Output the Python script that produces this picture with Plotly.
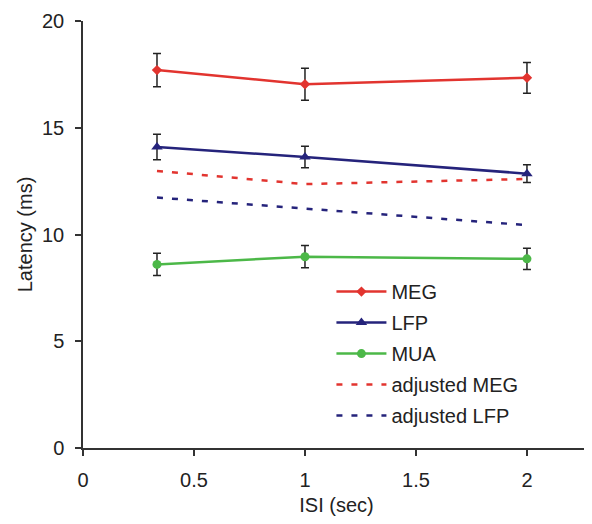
import plotly.graph_objects as go

isi = [1/3, 1, 2]
meg = [17.70, 17.04, 17.34]
meg_err = [0.78, 0.75, 0.72]
lfp = [14.10, 13.63, 12.85]
lfp_err = [0.60, 0.50, 0.42]
mua = [8.60, 8.96, 8.86]
mua_err = [0.52, 0.52, 0.50]
adj_meg = [12.98, 12.36, 12.60]
adj_lfp = [11.73, 11.21, 10.44]

RED = "#e2342f"
NAVY = "#25237b"
GREEN = "#4cb848"
FONT = "Liberation Sans, Arial, sans-serif"

fig = go.Figure()

def err(vals):
    return dict(type="data", array=vals, visible=True, color="#222222",
                thickness=1.5, width=4)

fig.add_trace(go.Scatter(x=isi, y=meg, name="MEG", mode="lines+markers",
                         line=dict(color=RED, width=2.5),
                         marker=dict(symbol="diamond", size=8, color=RED),
                         error_y=err(meg_err), legendgroup="a"))
fig.add_trace(go.Scatter(x=isi, y=lfp, name="LFP", mode="lines+markers",
                         line=dict(color=NAVY, width=2.5),
                         marker=dict(symbol="triangle-up", size=10, color=NAVY),
                         error_y=err(lfp_err), legendgroup="b"))
fig.add_trace(go.Scatter(x=isi, y=mua, name="MUA", mode="lines+markers",
                         line=dict(color=GREEN, width=2.5),
                         marker=dict(symbol="circle", size=9, color=GREEN),
                         error_y=err(mua_err), legendgroup="c"))
fig.add_trace(go.Scatter(x=isi, y=adj_meg, name="adjusted MEG", mode="lines",
                         line=dict(color=RED, width=2.5, dash="6px,9px"),
                         legendgroup="d"))
fig.add_trace(go.Scatter(x=isi, y=adj_lfp, name="adjusted LFP", mode="lines",
                         line=dict(color=NAVY, width=2.5, dash="6px,9px"),
                         legendgroup="e"))

fig.update_layout(
    width=584, height=516,
    margin=dict(l=75, r=2, t=11, b=76),
    paper_bgcolor="white", plot_bgcolor="white",
    font=dict(family=FONT, size=20, color="#222222"),
    showlegend=True,
    legend=dict(x=0.49, y=0.412, xanchor="left", yanchor="top",
                font=dict(size=20, color="#222222"),
                bgcolor="rgba(0,0,0,0)", tracegroupgap=2,
                itemwidth=50),
    xaxis=dict(range=[0, 2.284], tickvals=[0, 0.5, 1, 1.5, 2],
               ticktext=["0", "0.5", "1", "1.5", "2"],
               showgrid=False, zeroline=False, showline=True,
               linecolor="#333333", linewidth=1.5,
               ticks="outside", ticklen=6, tickwidth=1.5, tickcolor="#333333",
               tickfont=dict(size=20), ticklabelstandoff=7,
               title=dict(text="ISI (sec)", font=dict(size=20), standoff=8)),
    yaxis=dict(range=[0, 20], tickvals=[0, 5, 10, 15, 20],
               showgrid=False, zeroline=False, showline=True,
               linecolor="#333333", linewidth=1.5,
               ticks="outside", ticklen=6, tickwidth=1.5, tickcolor="#333333",
               tickfont=dict(size=20), ticklabelstandoff=7,
               title=dict(text="Latency (ms)", font=dict(size=20), standoff=4)),
)

fig.write_html("out.html")
